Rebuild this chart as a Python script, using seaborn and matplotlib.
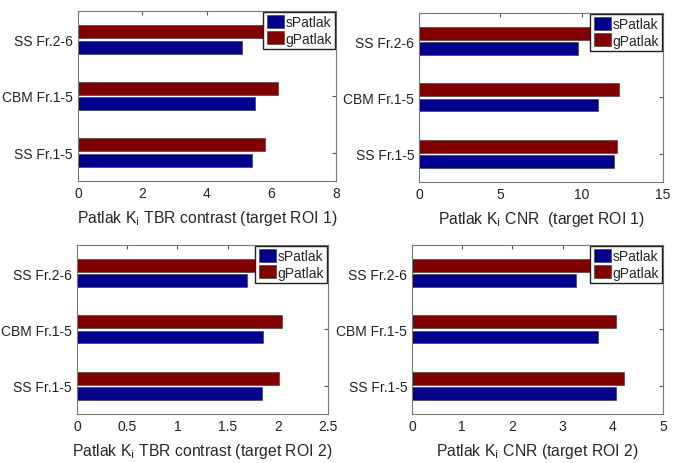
import matplotlib
matplotlib.use("Agg")
import matplotlib.pyplot as plt
import seaborn as sns
import pandas as pd

# Data
categories = ['SS Fr.2-6', 'CBM Fr.1-5', 'SS Fr.1-5']
methods = ['sPatlak', 'gPatlak']

tbr_roi1_s = [5.1, 5.5, 5.4]
tbr_roi1_g = [5.75, 6.2, 5.8]
cnr_roi1_s = [9.8, 11.0, 12.0]
cnr_roi1_g = [10.7, 12.3, 12.2]
tbr_roi2_s = [1.69, 1.85, 1.84]
tbr_roi2_g = [1.90, 2.04, 2.01]
cnr_roi2_s = [3.27, 3.71, 4.07]
cnr_roi2_g = [3.57, 4.07, 4.23]

xlabels = ['Patlak K$_\\mathrm{i}$ TBR contrast (target ROI 1)',
           'Patlak K$_\\mathrm{i}$ CNR  (target ROI 1)',
           'Patlak K$_\\mathrm{i}$ TBR contrast (target ROI 2)',
           'Patlak K$_\\mathrm{i}$ CNR (target ROI 2)']
xmax = [8, 15, 2.5, 5]
xticks = [[0, 2, 4, 6, 8], [0, 5, 10, 15],
          [0, 0.5, 1, 1.5, 2, 2.5], [0, 1, 2, 3, 4, 5]]
xticklabels = [['0', '2', '4', '6', '8'], ['0', '5', '10', '15'],
               ['0', '0.5', '1', '1.5', '2', '2.5'],
               ['0', '1', '2', '3', '4', '5']]

panels = [(tbr_roi1_s, tbr_roi1_g), (cnr_roi1_s, cnr_roi1_g),
          (tbr_roi2_s, tbr_roi2_g), (cnr_roi2_s, cnr_roi2_g)]

# axes rectangles [left, bottom, width, height] in figure fraction
rects = [[0.1157, 0.608, 0.3828, 0.366],
         [0.6217, 0.606, 0.3620, 0.364],
         [0.1142, 0.106, 0.3724, 0.364],
         [0.6113, 0.106, 0.3725, 0.364]]

palette = {'sPatlak': '#00008f', 'gPatlak': '#800000'}

sns.set_style('white')
plt.rcParams['font.family'] = ['Liberation Sans', 'DejaVu Sans']

fig = plt.figure(figsize=(6.74, 4.64), dpi=100)

for i, (s_vals, g_vals) in enumerate(panels):
    ax = fig.add_axes(rects[i])
    df = pd.DataFrame({
        'category': categories * 2,
        'method': ['sPatlak'] * 3 + ['gPatlak'] * 3,
        'value': s_vals + g_vals,
    })
    sns.barplot(data=df, x='value', y='category', hue='method',
                hue_order=['gPatlak', 'sPatlak'], order=categories,
                palette=palette, width=0.54, gap=0.15, errorbar=None,
                edgecolor='#333333', linewidth=0.4, saturation=1, ax=ax)
    ax.set_xlim(0, xmax[i])
    ax.set_ylim(2.5, -0.5)
    ax.set_xticks(xticks[i])
    ax.set_xticklabels(xticklabels[i])
    ax.set_xlabel(xlabels[i], fontsize=11.3, labelpad=6)
    ax.set_ylabel('')
    ax.tick_params(direction='in', top=True, right=True, length=3,
                   labelsize=10, colors='#555555', labelcolor='#222222')
    for sp in ax.spines.values():
        sp.set_color('#777777')
        sp.set_linewidth(0.8)
    handles, labels = ax.get_legend_handles_labels()
    order = [labels.index('sPatlak'), labels.index('gPatlak')]
    ax.legend([handles[k] for k in order], [labels[k] for k in order],
              loc='upper right', fontsize=10, frameon=True, fancybox=False,
              edgecolor='#222222', framealpha=1, borderaxespad=0.05,
              handlelength=1.25, handleheight=1.05, handletextpad=0.1,
              borderpad=0.25, labelspacing=0.15)

fig.savefig('out.png', dpi=100)
